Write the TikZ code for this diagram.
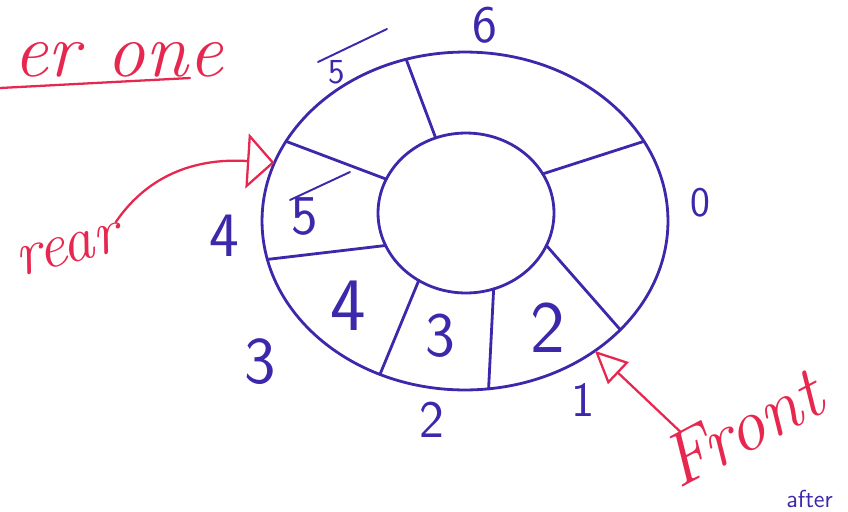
\documentclass[tikz,border=0pt]{standalone}
\usetikzlibrary{shapes.geometric, arrows.meta, positioning, calc}
\definecolor{penblue}{HTML}{3C28AA}
\definecolor{penred}{HTML}{E62850}

\begin{document}
\begin{tikzpicture}[
  x=0.02cm, y=-0.02cm,
  ring/.style={ellipse, draw=penblue, line width=1.6pt, inner sep=0pt, outer sep=0pt},
  divider/.style={draw=penblue, line width=1.6pt, line cap=round},
  idx/.style={text=penblue, font=\sffamily\fontsize{28}{28}\selectfont, inner sep=0pt},
  val/.style={text=penblue, font=\sffamily\fontsize{40}{40}\selectfont, inner sep=0pt},
  note/.style={text=penred, font=\itshape\fontsize{44}{44}\selectfont, inner sep=0pt},
  pointer/.style={draw=penred, line width=1.3pt, line cap=round},
]
  \useasboundingbox (0,0) rectangle (848,511);
  \clip (0,0) rectangle (848,511);

  \node[ring, minimum width=8.12cm, minimum height=6.76cm] (outer) at (465,221) {};
  \node[ring, minimum width=3.52cm, minimum height=3.2cm] (inner) at (466,213) {};

  \draw[divider] (outer.110) -- (inner.112);
  \draw[divider] (outer.156) -- (inner.157);
  \draw[divider] (outer.191) -- (inner.202);
  \draw[divider] (outer.241) -- (inner.235);
  \draw[divider] (outer.278) -- (inner.290);
  \draw[divider] (outer.325) -- (inner.338);
  \draw[divider] (outer.24) -- (inner.27);

  \node[idx, font=\sffamily\fontsize{24}{24}\selectfont] (idx0) at (700,203) {0};
  \node[idx] (idx1) at (583,400) {1};
  \node[idx, font=\sffamily\fontsize{30}{30}\selectfont] (idx2) at (432,420) {2};
  \node[idx, font=\sffamily\fontsize{38}{38}\selectfont] (idx3) at (260,362) {3};
  \node[idx, font=\sffamily\fontsize{36}{36}\selectfont] (idx4) at (224,236) {4};
  \node[idx, font=\sffamily\fontsize{20}{20}\selectfont] (idx5) at (337,72) {5};
  \node[idx, font=\sffamily\fontsize{30}{30}\selectfont] (idx6) at (485,25) {6};
  \draw[divider, line width=1.1pt] (318,62) -- (387,29);

  \node[val, font=\sffamily\fontsize{32}{32}\selectfont] (val5) at (305,217) {5};
  \node[val, font=\sffamily\fontsize{43}{43}\selectfont] (val4) at (348,306) {4};
  \node[val, font=\sffamily\fontsize{36}{36}\selectfont] (val3) at (440,336) {3};
  \node[val, font=\sffamily\fontsize{42}{42}\selectfont] (val2) at (548,328) {2};
  \draw[divider, line width=1.1pt] (290,200) -- (350,172);

  \node[note] (title) at (118,60) {er one};
  \draw[pointer] (0,88) -- (190,78);

  \node[note, font=\itshape\fontsize{36}{36}\selectfont, rotate=15] (rear) at (68,250) {rear};
  \draw[pointer, -{Triangle[open, length=5.5mm, width=11mm]}]
    (rear.north east) .. controls (150,172) and (200,158) .. (outer.163);

  \node[note, font=\itshape\fontsize{42}{42}\selectfont, rotate=28] (front) at (742,428) {Front};
  \draw[pointer, -{Triangle[open, length=6.5mm, width=6mm]}]
    ($(front.north west)!0.17!(front.north east)$) -- (outer.315);

  \node[idx, font=\sffamily\fontsize{14}{14}\selectfont, anchor=north west] (after) at (786,490) {after};
\end{tikzpicture}
\end{document}
